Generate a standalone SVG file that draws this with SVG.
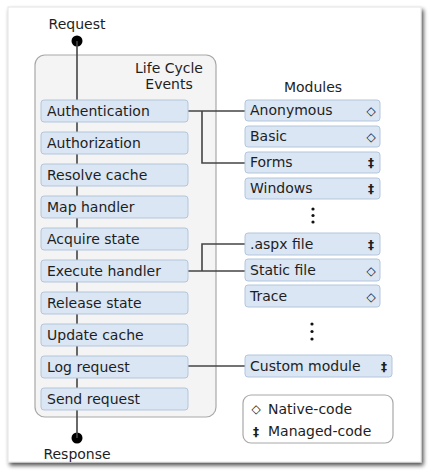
<svg xmlns="http://www.w3.org/2000/svg" width="431" height="474" viewBox="0 0 431 474">
<defs>
<filter id="sh" x="-5%" y="-5%" width="115%" height="115%">
<feGaussianBlur in="SourceAlpha" stdDeviation="2"/>
<feOffset dx="2" dy="3" result="b"/>
<feComponentTransfer><feFuncA type="linear" slope="0.7"/></feComponentTransfer>
<feMerge><feMergeNode/><feMergeNode in="SourceGraphic"/></feMerge>
</filter>
<style>
text{font-family:"DejaVu Sans",Verdana,sans-serif;font-size:14px;fill:#1e1e1e}
.ev{fill:#dae6f3;stroke:#b3c6dc;stroke-width:1}
.md{fill:#dae6f3;stroke:#b3c6dc;stroke-width:1}
.ln{stroke:#444;stroke-width:1.6;fill:none}
.sym{font-size:12px;font-weight:bold}
</style>
</defs>
<rect x="0" y="0" width="431" height="474" fill="#ffffff"/>
<rect x="8" y="7" width="413" height="455" fill="#ffffff" stroke="#e4e4e4" stroke-width="1" filter="url(#sh)"/>

<g id="request">
<text x="77" y="29" text-anchor="middle">Request</text>
<circle cx="77" cy="41" r="5.5" fill="#000"/>
</g>
<g id="response">
<circle cx="77" cy="438" r="5.5" fill="#000"/>
<text x="77" y="459" text-anchor="middle">Response</text>
</g>

<g id="lifecycle">
<rect x="35" y="55" width="181" height="362" rx="10" fill="#f4f4f4" stroke="#a8a8a8" stroke-width="1.2"/>
<text x="169" y="73" text-anchor="middle">Life Cycle</text>
<text x="169" y="89" text-anchor="middle">Events</text>
</g>

<g id="connectors">
<line class="ln" x1="77" y1="41" x2="77" y2="100"/>
<line class="ln" x1="77" y1="122" x2="77" y2="132"/>
<line class="ln" x1="77" y1="154" x2="77" y2="164"/>
<line class="ln" x1="77" y1="186" x2="77" y2="196"/>
<line class="ln" x1="77" y1="218" x2="77" y2="228"/>
<line class="ln" x1="77" y1="250" x2="77" y2="260"/>
<line class="ln" x1="77" y1="282" x2="77" y2="292"/>
<line class="ln" x1="77" y1="314" x2="77" y2="324"/>
<line class="ln" x1="77" y1="346" x2="77" y2="356"/>
<line class="ln" x1="77" y1="378" x2="77" y2="388"/>
<line class="ln" x1="77" y1="410" x2="77" y2="438"/>
<path class="ln" d="M188 111 H245 M202 111 V163 H245"/>
<path class="ln" d="M188 271 H245 M202 271 V244 H245"/>
<path class="ln" d="M188 366 H245"/>
</g>

<g id="ev-authentication"><rect class="ev" x="41" y="100" width="147" height="22" rx="3"/><text x="47" y="116">Authentication</text></g>
<g id="ev-authorization"><rect class="ev" x="41" y="132" width="147" height="22" rx="3"/><text x="47" y="148">Authorization</text></g>
<g id="ev-resolve-cache"><rect class="ev" x="41" y="164" width="147" height="22" rx="3"/><text x="47" y="180">Resolve cache</text></g>
<g id="ev-map-handler"><rect class="ev" x="41" y="196" width="147" height="22" rx="3"/><text x="47" y="212">Map handler</text></g>
<g id="ev-acquire-state"><rect class="ev" x="41" y="228" width="147" height="22" rx="3"/><text x="47" y="244">Acquire state</text></g>
<g id="ev-execute-handler"><rect class="ev" x="41" y="260" width="147" height="22" rx="3"/><text x="47" y="276">Execute handler</text></g>
<g id="ev-release-state"><rect class="ev" x="41" y="292" width="147" height="22" rx="3"/><text x="47" y="308">Release state</text></g>
<g id="ev-update-cache"><rect class="ev" x="41" y="324" width="147" height="22" rx="3"/><text x="47" y="340">Update cache</text></g>
<g id="ev-log-request"><rect class="ev" x="41" y="356" width="147" height="22" rx="3"/><text x="47" y="372">Log request</text></g>
<g id="ev-send-request"><rect class="ev" x="41" y="388" width="147" height="22" rx="3"/><text x="47" y="404">Send request</text></g>

<g id="modules-title"><text x="313" y="92" text-anchor="middle">Modules</text></g>

<g id="m-anonymous"><rect class="md" x="245" y="100" width="135" height="21" rx="3"/><text x="250" y="115">Anonymous</text><text class="sym" x="371" y="115" text-anchor="middle">◇</text></g>
<g id="m-basic"><rect class="md" x="245" y="126" width="135" height="21" rx="3"/><text x="250" y="141">Basic</text><text class="sym" x="371" y="141" text-anchor="middle">◇</text></g>
<g id="m-forms"><rect class="md" x="245" y="152" width="135" height="21" rx="3"/><text x="250" y="167">Forms</text><text class="sym" x="371" y="167" text-anchor="middle">‡</text></g>
<g id="m-windows"><rect class="md" x="245" y="178" width="135" height="21" rx="3"/><text x="250" y="193">Windows</text><text class="sym" x="371" y="193" text-anchor="middle">‡</text></g>
<g id="ellipsis1"><circle cx="313" cy="209" r="1.6" fill="#111"/><circle cx="313" cy="215.5" r="1.6" fill="#111"/><circle cx="313" cy="222" r="1.6" fill="#111"/></g>
<g id="m-aspx"><rect class="md" x="245" y="233" width="135" height="22" rx="3"/><text x="250" y="249">.aspx file</text><text class="sym" x="371" y="249" text-anchor="middle">‡</text></g>
<g id="m-static"><rect class="md" x="245" y="259" width="135" height="22" rx="3"/><text x="250" y="275">Static file</text><text class="sym" x="371" y="275" text-anchor="middle">◇</text></g>
<g id="m-trace"><rect class="md" x="245" y="285" width="135" height="22" rx="3"/><text x="250" y="301">Trace</text><text class="sym" x="371" y="301" text-anchor="middle">◇</text></g>
<g id="ellipsis2"><circle cx="312" cy="324" r="1.6" fill="#111"/><circle cx="312" cy="331.5" r="1.6" fill="#111"/><circle cx="312" cy="339" r="1.6" fill="#111"/></g>
<g id="m-custom"><rect class="md" x="245" y="355" width="147" height="22" rx="3"/><text x="250" y="371">Custom module</text><text class="sym" x="384" y="371" text-anchor="middle">‡</text></g>

<g id="legend">
<rect x="243" y="395" width="150" height="48" rx="8" fill="#fff" stroke="#a8a8a8" stroke-width="1.2"/>
<text class="sym" x="256" y="413" text-anchor="middle">◇</text><text x="268" y="414">Native-code</text>
<text class="sym" x="256" y="436" text-anchor="middle">‡</text><text x="268" y="436">Managed-code</text>
</g>
</svg>
